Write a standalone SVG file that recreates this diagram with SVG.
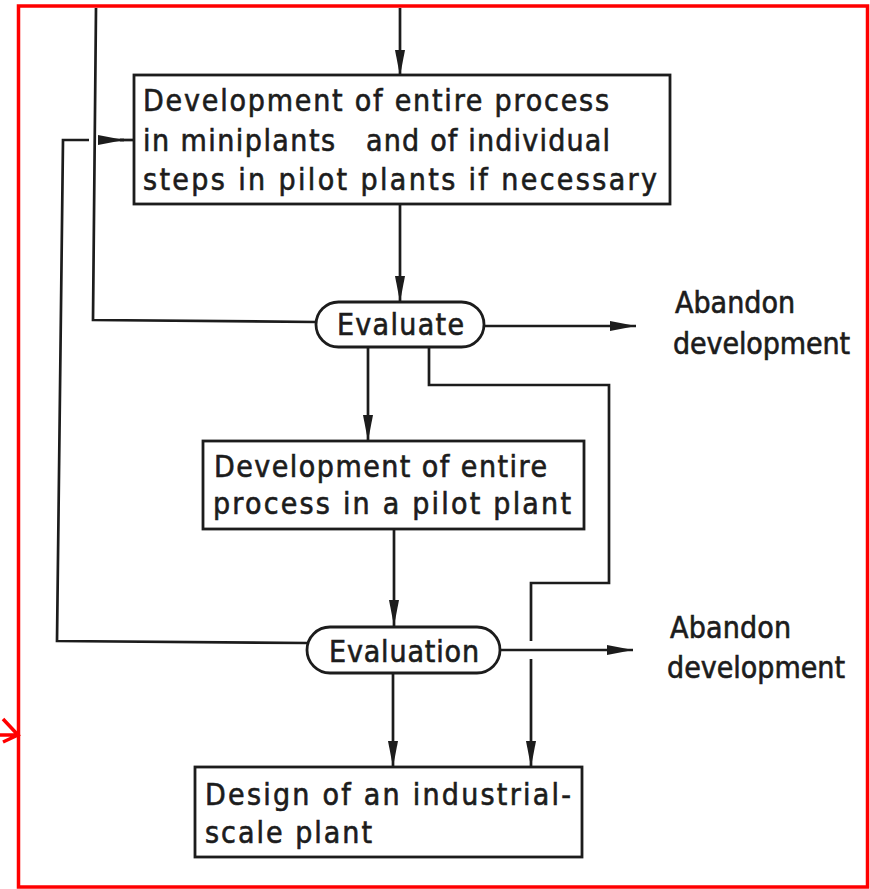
<svg xmlns="http://www.w3.org/2000/svg" width="870" height="889" viewBox="0 0 870 889">
  <style>
    .box { fill: #fff; stroke: #1c1c1c; stroke-width: 2.8; }
    .wire { fill: none; stroke: #1c1c1c; stroke-width: 2.7; }
    .lbl { font-family: "DejaVu Sans Condensed", "DejaVu Sans", "Liberation Sans", sans-serif; font-size: 30px; fill: #1c1c1c; stroke: #1c1c1c; stroke-width: 0.6; }
    .frame { fill: none; stroke: #ff0000; stroke-width: 3.5; }
  </style>
  <defs>
    <marker id="ah" viewBox="0 0 26 10" refX="26" refY="5" markerWidth="26" markerHeight="10" markerUnits="userSpaceOnUse" orient="auto">
      <path d="M0,0 L26,5 L0,10 z" fill="#1c1c1c"/>
    </marker>
  </defs>

  <rect width="870" height="889" fill="#fff"/>

  <!-- connectors -->
  <g id="connectors">
    <line class="wire" x1="400" y1="8" x2="400" y2="76" marker-end="url(#ah)"/>
    <polyline class="wire" points="96,8 93,320 316,322"/>
    <line class="wire" x1="400" y1="203" x2="400" y2="302" marker-end="url(#ah)"/>
    <line class="wire" x1="484" y1="326" x2="636" y2="326" marker-end="url(#ah)"/>
    <line class="wire" x1="368" y1="347" x2="368" y2="441" marker-end="url(#ah)"/>
    <path class="wire" d="M429,347 V385 H609 V583 H531 V641 M531,659 V767" marker-end="url(#ah)"/>
    <line class="wire" x1="394" y1="529" x2="394" y2="626" marker-end="url(#ah)"/>
    <line class="wire" x1="500" y1="650" x2="633" y2="650" marker-end="url(#ah)"/>
    <line class="wire" x1="393" y1="673" x2="393" y2="767" marker-end="url(#ah)"/>
    <polyline class="wire" points="307,643 57,641 63,140 89,140"/>
    <line class="wire" x1="101" y1="140" x2="124" y2="140" marker-end="url(#ah)"/>
    <line class="wire" x1="120" y1="140" x2="134" y2="140"/>
  </g>

  <!-- process step: miniplants -->
  <g id="miniplants">
    <rect class="box" x="134" y="75" width="536" height="129"/>
    <text class="lbl" x="143" y="111" textLength="466" lengthAdjust="spacing">Development of entire process</text>
    <text class="lbl" x="143" y="151" textLength="192" lengthAdjust="spacing">in miniplants</text>
    <text class="lbl" x="366" y="151" textLength="244" lengthAdjust="spacing">and of individual</text>
    <text class="lbl" x="143" y="190" textLength="514" lengthAdjust="spacing">steps in pilot plants if necessary</text>
  </g>

  <!-- decision: evaluate -->
  <g id="evaluate">
    <rect class="box" x="316" y="302" width="168" height="45" rx="22.5"/>
    <text class="lbl" x="337" y="335" textLength="127" lengthAdjust="spacing">Evaluate</text>
  </g>

  <g id="abandon1">
    <text class="lbl" x="675" y="313" textLength="120" lengthAdjust="spacing">Abandon</text>
    <text class="lbl" x="673" y="354" textLength="177" lengthAdjust="spacing">development</text>
  </g>

  <!-- process step: pilot plant -->
  <g id="pilot">
    <rect class="box" x="203" y="441" width="381" height="88"/>
    <text class="lbl" x="214" y="477" textLength="333" lengthAdjust="spacing">Development of entire</text>
    <text class="lbl" x="213" y="514" textLength="358" lengthAdjust="spacing">process in a pilot plant</text>
  </g>

  <!-- decision: evaluation -->
  <g id="evaluation">
    <rect class="box" x="307" y="627" width="193" height="46" rx="23"/>
    <text class="lbl" x="329" y="662" textLength="150" lengthAdjust="spacing">Evaluation</text>
  </g>

  <g id="abandon2">
    <text class="lbl" x="670" y="638" textLength="121" lengthAdjust="spacing">Abandon</text>
    <text class="lbl" x="667" y="678" textLength="178" lengthAdjust="spacing">development</text>
  </g>

  <!-- final step: industrial plant -->
  <g id="industrial">
    <rect class="box" x="195" y="767" width="387" height="90"/>
    <text class="lbl" x="205" y="805" textLength="366" lengthAdjust="spacing">Design of an industrial-</text>
    <text class="lbl" x="205" y="843" textLength="167" lengthAdjust="spacing">scale plant</text>
  </g>

  <!-- red outline and pointer -->
  <g id="outline">
    <rect class="frame" x="18.5" y="6" width="849" height="881"/>
    <path d="M0,735 H18 M3,719 L18,735 L3,742" fill="none" stroke="#ff0000" stroke-width="3.5"/>
  </g>
</svg>
